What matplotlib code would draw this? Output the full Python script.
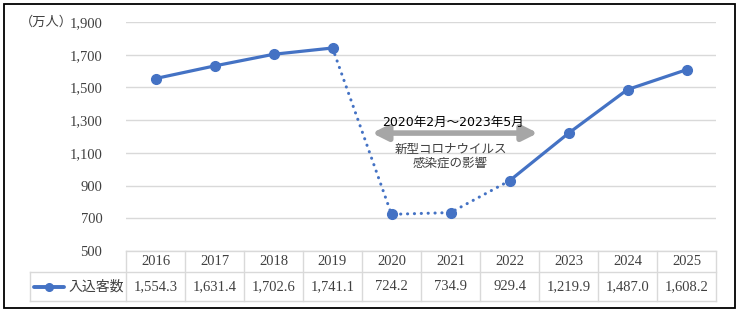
import matplotlib
matplotlib.use("Agg")
import matplotlib.pyplot as plt
import matplotlib.transforms as mtransforms
from matplotlib.patches import Rectangle
from matplotlib.lines import Line2D

plt.rcParams['font.family'] = ['Liberation Serif', 'Noto Sans CJK JP', 'DejaVu Sans']

years = ['2016', '2017', '2018', '2019', '2020', '2021', '2022', '2023', '2024', '2025']
visitors = [1554.3, 1631.4, 1702.6, 1741.1, 724.2, 734.9, 929.4, 1219.9, 1487.0, 1608.2]
value_labels = ['1,554.3', '1,631.4', '1,702.6', '1,741.1', '724.2', '734.9',
                '929.4', '1,219.9', '1,487.0', '1,608.2']
yticks = [500, 700, 900, 1100, 1300, 1500, 1700, 1900]
series_name = '入込客数'
unit_label = '（万人）'

W, H = 740, 315
blue = '#4472C4'
grid_c = '#D9D9D9'
txt_c = '#404040'


def fx(px):
    return px / W


def fy(py):
    return 1 - py / H


fig = plt.figure(figsize=(W / 100, H / 100), dpi=100)
ax = fig.add_axes([fx(126), fy(251), fx(716) - fx(126), fy(22) - fy(251)])

x = list(range(len(years)))
ax.set_xlim(-0.5, len(years) - 0.5)
ax.set_ylim(500, 1900)

# solid before / after covid, dotted during
ax.plot(x[:4], visitors[:4], color=blue, lw=2.3, solid_capstyle='round', zorder=3)
ax.plot(x[3:7], visitors[3:7], color=blue, lw=2.2, linestyle=(0, (0.05, 2.2)),
        dash_capstyle='round', zorder=3)
ax.plot(x[6:], visitors[6:], color=blue, lw=2.3, solid_capstyle='round', zorder=3)
ax.plot(x, visitors, 'o', color=blue, ms=7, zorder=4)

for t in yticks:
    ax.axhline(t, color=grid_c, lw=1, zorder=1)
ax.set_yticks(yticks)
ax.set_yticklabels([f'{t:,}' for t in yticks], fontsize=10.5, color=txt_c)
ax.tick_params(axis='y', length=0, pad=17)
ax.set_xticks([])
for s in ax.spines.values():
    s.set_visible(False)

# covid period annotation
ax.annotate('', xy=(3.67, 1221), xytext=(6.48, 1221),
            arrowprops=dict(arrowstyle='<|-|>,head_length=0.9,head_width=0.45',
                            color='#A6A6A6', lw=4, shrinkA=0, shrinkB=0))
ax.text(5.05, 1289, '2020年2月～2023年5月', ha='center', va='center',
        fontsize=9, color='#000000', family=['DejaVu Sans', 'Noto Sans CJK JP'])
ax.text(5.0, 1077, '新型コロナウイルス\n感染症の影響', ha='center', va='center',
        fontsize=9, color=txt_c, linespacing=1.1, family=['Noto Sans CJK JP'])

fig.text(fx(46), fy(22), unit_label, ha='center', va='center', fontsize=9.5,
         color=txt_c, family=['Noto Sans CJK JP'])

# data table under the chart
tr = mtransforms.blended_transform_factory(ax.transData, fig.transFigure)
row_top, row_mid, row_bot = fy(251), fy(272), fy(301)
left_px = 30
fig.add_artist(Line2D([fx(126), fx(716)], [row_top, row_top], color=grid_c, lw=1))
fig.add_artist(Line2D([fx(left_px), fx(716)], [row_mid, row_mid], color=grid_c, lw=1))
fig.add_artist(Line2D([fx(left_px), fx(716)], [row_bot, row_bot], color=grid_c, lw=1))
fig.add_artist(Line2D([fx(left_px), fx(left_px)], [row_mid, row_bot], color=grid_c, lw=1))
for i in range(len(years) + 1):
    ax.add_line(Line2D([i - 0.5, i - 0.5], [row_top, row_bot], color=grid_c, lw=1,
                       transform=tr, clip_on=False))
for i, (yr, lab) in enumerate(zip(years, value_labels)):
    ax.text(i, (row_top + row_mid) / 2, yr, transform=tr, ha='center', va='center',
            fontsize=10.5, color=txt_c)
    ax.text(i, (row_mid + row_bot) / 2, lab, transform=tr, ha='center', va='center',
            fontsize=10.5, color=txt_c)

# legend key in the table
ym = (row_mid + row_bot) / 2
fig.add_artist(Line2D([fx(34), fx(64)], [ym, ym], color=blue, lw=2.8,
                      solid_capstyle='round'))
fig.add_artist(Line2D([fx(49)], [ym], marker='o', color=blue, ms=5.5))
fig.text(fx(96), ym, series_name, ha='center', va='center', fontsize=10,
         color=txt_c, family=['Noto Sans CJK JP'])

# outer frame
fig.add_artist(Rectangle((fx(4), fy(308)), fx(735) - fx(4), fy(4) - fy(308),
                         transform=fig.transFigure, fill=False, ec='black', lw=1.3))

fig.savefig('out.png', dpi=100)
